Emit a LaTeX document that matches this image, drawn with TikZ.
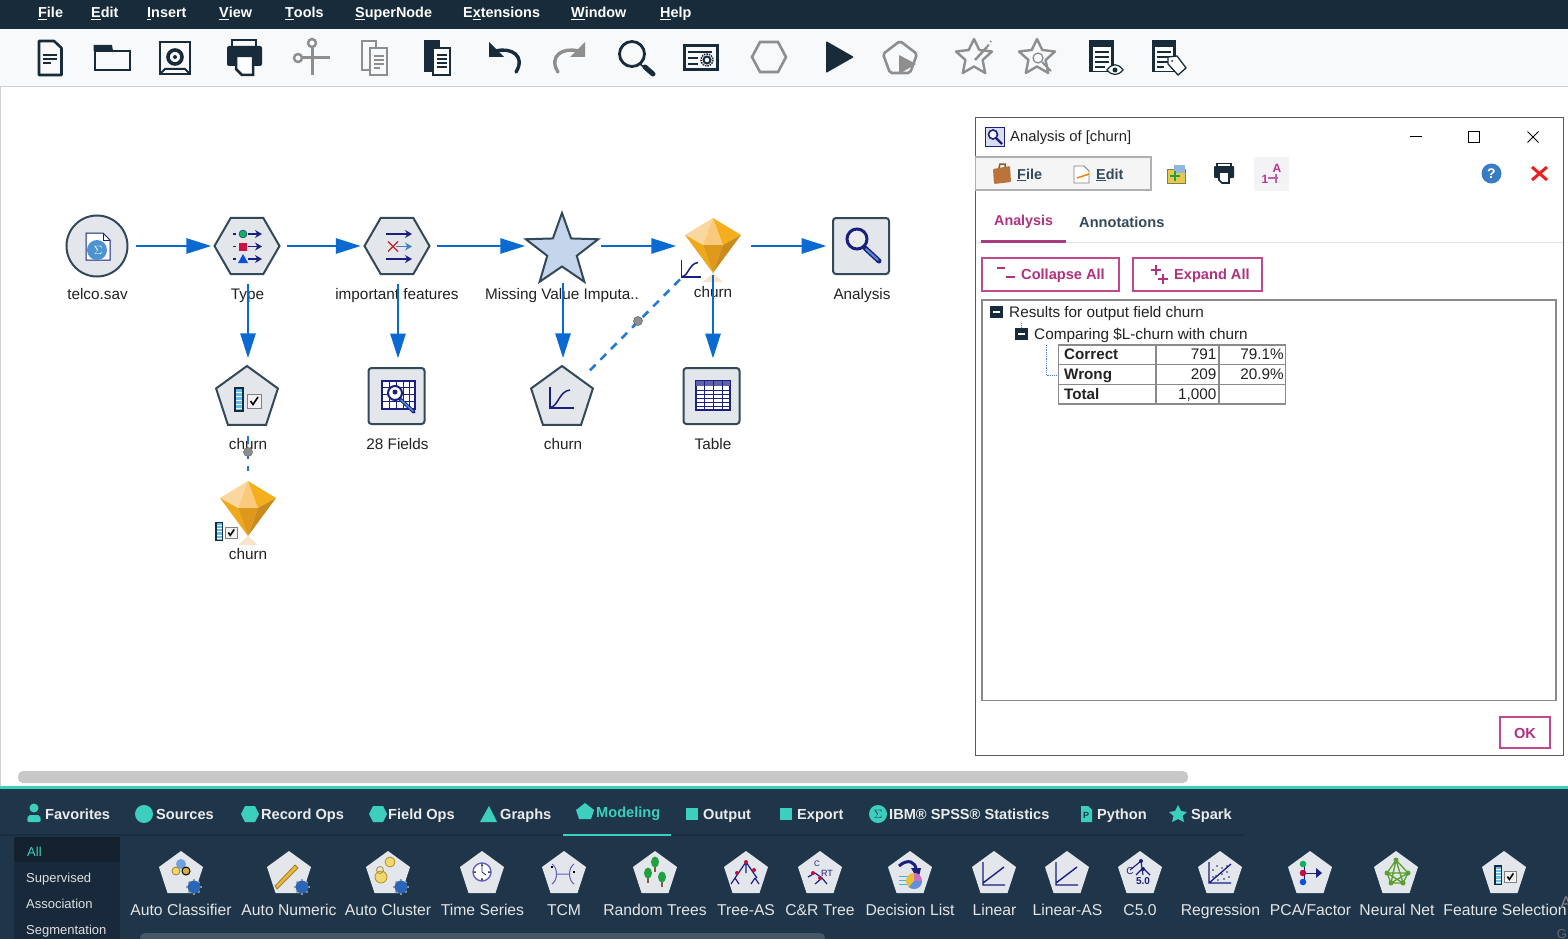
\documentclass[tikz,border=0pt]{standalone}
\usepackage{fontspec}
\setmainfont{Liberation Sans}
\usetikzlibrary{arrows.meta,shapes.geometric}
\definecolor{ink}{HTML}{172B3A}
\definecolor{gry}{HTML}{8E8E8E}
\definecolor{pal}{HTML}{1F364A}
\definecolor{teal}{HTML}{3CCFBD}
\definecolor{flowb}{HTML}{0A6AD2}
\definecolor{nodef}{HTML}{E3E6EA}
\definecolor{nodeb}{HTML}{33495A}
\definecolor{navy}{HTML}{1A1F80}
\definecolor{mag}{HTML}{B0317F}
\definecolor{txtc}{HTML}{222222}
\newcommand\hc[1]{\definecolor{c#1}{HTML}{#1}}
\hc{F8F9FB}\hc{CFCFCF}\hc{D0D0D0}\hc{C5D5EC}\hc{FAD79E}\hc{F9CA7C}\hc{F5AE1E}\hc{EFA81A}\hc{DE981C}\hc{CB8A1C}
\hc{2A66B8}\hc{4C93CF}\hc{10B060}\hc{D01040}\hc{0A50D8}\hc{4080C0}\hc{C02030}\hc{5A8FD0}\hc{C8C8C8}\hc{5A5A5A}
\hc{D8DEEE}\hc{B0B0B0}\hc{F5F5F5}\hc{B8743A}\hc{8A5A2A}\hc{33495A}\hc{808040}\hc{E8C850}\hc{90B8E0}\hc{20A040}
\hc{F3F3F6}\hc{C03090}\hc{C060B0}\hc{3A7CC4}\hc{E82020}\hc{E2E2E2}\hc{A83A80}\hc{C0498F}\hc{4C80C8}\hc{8A8A8A}
\hc{1A2E3F}\hc{17293A}\hc{13222E}\hc{465868}\hc{6FA0E0}\hc{A08020}\hc{F0D870}\hc{D8B040}\hc{E8B840}\hc{B09020}
\hc{6060C0}\hc{C01040}\hc{40B0F0}\hc{E8C030}\hc{D070C0}\hc{6090E0}\hc{1050D8}\hc{5AA030}\hc{F8E4CA}\hc{5FC0F0}
\tikzset{
 txt/.style={inner sep=0,text height=11pt,text depth=1pt},
 lbl/.style={txt,text=txtc,font=\fontsize{15.3}{16}\selectfont},
 menu/.style={txt,anchor=west,text=white,font=\fontsize{14.4}{16}\selectfont\bfseries},
 tabt/.style={txt,anchor=west,text=white!92!black,font=\fontsize{14.6}{16}\selectfont\bfseries},
 pall/.style={txt,text=white!90!black,font=\fontsize{15.7}{16}\selectfont},
 side/.style={txt,anchor=west,text=white!88!black,font=\fontsize{13}{16}\selectfont},
 dlg/.style={txt,anchor=west,text=txtc,font=\fontsize{15.3}{16}\selectfont},
 cellb/.style={txt,anchor=west,text=txtc,font=\fontsize{15.2}{16}\selectfont\bfseries},
 cellr/.style={txt,anchor=east,text=txtc,font=\fontsize{15.3}{16}\selectfont},
 btn/.style={txt,anchor=west,text=mag,font=\fontsize{14.6}{16}\selectfont\bfseries},
 hexn/.style={regular polygon,regular polygon sides=6,minimum size=65pt,inner sep=0,draw=nodeb,fill=nodef,line width=2pt},
 pentn/.style={regular polygon,regular polygon sides=5,minimum size=65pt,inner sep=0,draw=nodeb,fill=nodef,line width=2pt},
 sqn/.style={rectangle,rounded corners=3pt,minimum size=56pt,inner sep=0,draw=nodeb,fill=nodef,line width=2pt},
 hub/.style={rectangle,minimum size=56pt,inner sep=0},
 flow/.style={draw=flowb,line width=2.8pt,-{Triangle[length=25pt,width=15pt]}},
 link/.style={draw=flowb!90!white,line width=2.6pt,dash pattern=on 8pt off 7pt},
 dotn/.style={circle,minimum size=9pt,inner sep=0,fill=gry,draw=gry!70!black,line width=.5pt},
 tbd/.style={draw=ink,line width=2.6pt},
 tbg/.style={draw=gry,line width=2.6pt},
 barcheck/.pic={
  \fill[ink] (-13.5,-12) rectangle (-3.5,13);
  \fill[c5FC0F0] (-11.5,-10) rectangle (-5.5,11);
  \foreach \yy in {-7,-3,1,5,9}{\draw[white,line width=.7pt] (-11.5,\yy) -- (-5.5,\yy);}
  \draw[gray,fill=white!95!black,line width=.8pt] (-0.5,-5) rectangle (14,9);
  \draw[black,line width=1.6pt] (3,2) -- (5.5,5.5) -- (10.5,-2);
 },
 curveic/.pic={
  \draw[navy,line width=1.1pt] (-12,-11) -- (-12,10) -- (12,10);
  \draw[navy,line width=1.5pt] (-12,9.5) .. controls (-4,9) and (-3,-7) .. (8,-8);
 },
 gemic/.pic={
  \fill[cF8E4CA] (0,27) -- (-10,36) -- (10,36) -- cycle;
  \fill[cFAD79E] (0,-28) -- (-28,-11) -- (-10,-1) -- cycle;
  \fill[cF9CA7C] (0,-28) -- (-10,-1) -- (10,-1) -- cycle;
  \fill[cF5AE1E] (0,-28) -- (28,-11) -- (10,-1) -- cycle;
  \fill[cEFA81A] (-28,-11) -- (-10,-1) -- (0,27) -- cycle;
  \fill[cDE981C] (-10,-1) -- (10,-1) -- (0,27) -- cycle;
  \fill[cCB8A1C] (28,-11) -- (10,-1) -- (0,27) -- cycle;
 },
 palpent/.pic={
  \fill[nodef] (0,-23) -- (22,-7) -- (13.5,19) -- (-13.5,19) -- (-22,-7) -- cycle;
 },
 gearic/.pic={
  \foreach \aa in {0,45,...,315}{\draw[gray!80!white,line width=2.4pt] (0,0) -- (\aa:9.5);}
  \fill[c2A66B8] (0,0) circle (8);
 },
 starout/.pic={
  \draw[gry,line width=2.4pt,line join=round] (0,-18) -- (5.3,-7) -- (18,-5.5) -- (8.6,3) -- (11.2,16) -- (0,9.5) -- (-11.2,16) -- (-8.6,3) -- (-18,-5.5) -- (-5.3,-7) -- cycle;
 },
}
\begin{document}
\begin{tikzpicture}[x=1pt,y=-1pt]
\useasboundingbox (0,0) rectangle (1568,939);
\clip (0,0) rectangle (1568,939);
\fill[white] (0,0) rectangle (1568,939);
% menu bar
\fill[ink] (0,0) rectangle (1568,29);
\fill[cF8F9FB] (0,29) rectangle (1568,86);
\draw[cCFCFCF,line width=1pt] (0,86.5) -- (1568,86.5);
\node[menu] (m1) at (38,13) {\underline{F}ile};
\node[menu] (m2) at (91,13) {\underline{E}dit};
\node[menu] (m3) at (147,13) {\underline{I}nsert};
\node[menu] (m4) at (219,13) {\underline{V}iew};
\node[menu] (m5) at (285,13) {\underline{T}ools};
\node[menu] (m6) at (355,13) {\underline{S}uperNode};
\node[menu] (m7) at (463,13) {E\underline{x}tensions};
\node[menu] (m8) at (571,13) {\underline{W}indow};
\node[menu] (m9) at (660,13) {\underline{H}elp};
% toolbar icons
\draw[tbd,line join=round] (39,41) -- (54,41) -- (61.5,48) -- (61.5,75) -- (39,75) -- cycle;
\draw[ink,line width=1.2pt] (43,55) -- (57,55) (43,59) -- (57,59) (43,63) -- (51,63);
\draw[tbd] (95,51) rectangle (130,70);
\fill[ink] (93.7,45) -- (112,45) -- (113,51) -- (93.7,51) -- cycle;
\draw[tbd] (160,42) rectangle (190,74);
\draw[ink,line width=3.6pt] (175,57) circle (7);
\fill[ink] (175,57) circle (2);
\draw[ink,line width=2pt] (160,74) -- (165,69) -- (185,69) -- (190,74);
\draw[tbd] (232,40) rectangle (256,47);
\fill[ink,rounded corners=2pt] (227,46) rectangle (262,66);
\draw[ink,fill=white,line width=2.5pt] (236,56) -- (253,56) -- (253,75) -- (242,75) -- (236,69) -- cycle;
\draw[gry,line width=3pt] (312,47) -- (312,75) (302,58) -- (330,58);
\draw[gry,line width=2.4pt] (312,43) circle (4) (298,58) circle (4);
\draw[tbg,line width=2pt] (362,41) rectangle (376,70);
\draw[gry,fill=cF8F9FB,line width=2pt] (370,48) rectangle (387,75);
\draw[gry,line width=1.2pt] (374,56) -- (384,56) (374,60) -- (384,60) (374,64) -- (384,64) (374,68) -- (380,68);
\fill[ink] (424,40) -- (440,40) -- (440,72) -- (424,72) -- cycle;
\draw[ink,fill=white,line width=2.2pt] (433,48) rectangle (450,75);
\draw[ink,line width=1.3pt] (437,55) -- (447,55) (437,59) -- (447,59) (437,63) -- (447,63) (437,67) -- (447,67);
\draw[ink,line width=3.4pt,line cap=round] (516,72) .. controls (526,56) and (511,47) .. (496,51);
\fill[ink] (489,42) -- (489,57) -- (504,57) -- cycle;
\draw[gry,line width=3.4pt,line cap=round] (558,72) .. controls (548,56) and (563,47) .. (578,51);
\fill[gry] (585,42) -- (585,57) -- (570,57) -- cycle;
\draw[ink,line width=2.8pt] (632,54) circle (12.5);
\draw[ink,line width=1.6pt] (640,64) -- (645,68);
\draw[ink,line width=5pt,line cap=round] (645,67) -- (653,74);
\draw[tbd,line width=3pt] (684,46) rectangle (717,70);
\draw[ink,line width=1.5pt] (688,52) -- (712,52) (688,58) -- (698,58) (688,64) -- (698,64);
\draw[ink,line width=2pt] (707,60) circle (3.5);
\draw[ink,line width=1.5pt,densely dotted] (707,60) circle (6);
\draw[tbg] (752,57) -- (760,42) -- (778,42) -- (786,57) -- (778,72) -- (760,72) -- cycle;
\fill[ink,rounded corners=1pt] (826,41) -- (854,57) -- (826,73) -- cycle;
\draw[tbg,rounded corners=2pt] (900,41) -- (917,54) -- (910,73) -- (890,73) -- (883,54) -- cycle;
\fill[gry] (899,55) -- (916,64) -- (899,74) -- cycle;
\pic at (974,57) {starout};
\draw[gry,line width=2.5pt] (975,60) -- (987,47);
\draw[gry,line width=2pt,dashed] (987,47) -- (991,41);
\pic at (1037,57) {starout};
\draw[gry,line width=1.3pt] (1038,58) circle (5);
\draw[gry,line width=2pt] (1042,62) -- (1051,71);
\fill[ink] (1089,40) rectangle (1114,72);
\fill[white] (1093,47) rectangle (1111,71);
\draw[ink,line width=1.2pt] (1095,52) -- (1109,52) (1095,57) -- (1109,57) (1095,62) -- (1109,62) (1095,67) -- (1105,67);
\draw[ink,fill=white,line width=1.2pt] (1107,70) .. controls (1112,63) and (1118,63) .. (1123,70) .. controls (1118,76) and (1112,76) .. (1107,70) -- cycle;
\fill[ink] (1115,70) circle (2.5);
\fill[ink] (1152,40) rectangle (1176,72);
\fill[white] (1155,47) rectangle (1173,71);
\draw[ink,line width=1.2pt] (1157,52) -- (1171,52) (1157,57) -- (1171,57) (1157,62) -- (1168,62) (1157,67) -- (1164,67);
\draw[ink,fill=white,line width=1.3pt] (1168,57) -- (1177,56) -- (1186,68) -- (1178,75) -- (1168,64) -- cycle;
\fill[ink] (1172,61) circle (1);
% canvas nodes
\draw[cD0D0D0,line width=1pt] (.5,87) -- (.5,786);
\node[circle,minimum size=61pt,inner sep=0,draw=nodeb,fill=nodef,line width=2pt] (telco) at (97,246) {};
\node[hexn] (type) at (247,246) {};
\node[hexn] (imp) at (397,246) {};
\node[star,star points=5,star point ratio=2.45,minimum size=76pt,inner sep=0,draw=nodeb,fill=cC5D5EC,line width=2pt] (starshape) at (562,251) {};
\node[hub] (mvi) at (562,246) {};
\node[hub] (gem) at (713,246) {};
\pic at (713,246) {gemic};
\node[sqn] (analysis) at (861,246) {};
\node[pentn] (sel) at (247,398.5) {};
\node[sqn] (fields) at (396.5,396) {};
\node[pentn] (logit) at (562,398.5) {};
\node[sqn] (tablen) at (711.5,396) {};
\node[hub] (gemb) at (248,509) {};
\pic at (248,509) {gemic};
% labels
\node[lbl] (l1) at (97.5,294) {telco.sav};
\node[lbl] (l2) at (247.5,294) {Type};
\node[lbl] (l3) at (397,294) {important features};
\node[lbl] (l4) at (562,294) {Missing Value Imputa..};
\node[lbl] (l5) at (713,292) {churn};
\node[lbl] (l6) at (862,294) {Analysis};
\node[lbl] (l7) at (248,444) {churn};
\node[lbl] (l8) at (397.5,444) {28 Fields};
\node[lbl] (l9) at (563,444) {churn};
\node[lbl] (l10) at (713,444) {Table};
\node[lbl] (l11) at (248,554) {churn};
% node icons
\fill[white,draw=navy,line width=1pt] (86,233) -- (103,233) -- (110,240) -- (110,260) -- (86,260) -- cycle;
\draw[navy,line width=1pt] (103,233) -- (103,240) -- (110,240);
\fill[c4C93CF] (97,250) circle (10);
\node[txt,text=white,font=\fontsize{12}{12}\selectfont\bfseries] (sig) at (98,249) {$\Sigma$};
% type icon
\foreach \yy in {234,246.5,259}{
 \draw[navy,line width=1.2pt] (233,\yy) -- (236,\yy);
 \draw[navy,line width=1.2pt,-{Stealth[length=7pt,width=8pt]}] (248,\yy) -- (262,\yy);}
\fill[c10B060,draw=navy,line width=.4pt] (243,234) circle (4);
\fill[cD01040] (239,242.5) rectangle (247,250.5);
\fill[c0A50D8] (243,254) -- (248,263) -- (238,263) -- cycle;
% imp icon
\draw[navy,line width=1.3pt,-{Stealth[length=7pt,width=8pt]}] (386,234) -- (412,234);
\draw[navy,line width=1.3pt,-{Stealth[length=7pt,width=8pt]}] (386,259) -- (412,259);
\draw[c4080C0,line width=1.3pt,-{Stealth[length=7pt,width=8pt]}] (396,246.5) -- (412,246.5);
\draw[cC02030,line width=1.4pt] (388,241.5) -- (398,251.5) (398,241.5) -- (388,251.5);
% analysis icon
\draw[navy,line width=3pt,fill=white!85!gray] (857,239) circle (10);
\draw[navy,line width=5pt,line cap=round] (865,248) -- (879,261);
\draw[c5A8FD0,line width=2pt,line cap=round] (866,249) -- (878,260);
% sel icon
\pic at (247.5,399) {barcheck};
% fields icon
\draw[navy,fill=white,line width=1.5pt] (382,381) rectangle (415,409);
\foreach \xx in {389,396,403,409}{\draw[navy,line width=1pt] (\xx,381) -- (\xx,409);}
\foreach \yy in {387,394,401}{\draw[navy,line width=1pt] (382,\yy) -- (415,\yy);}
\draw[navy,fill=white,line width=2pt] (395,393) circle (7);
\fill[navy] (395,392) circle (2.5);
\draw[navy,line width=3.5pt,line cap=round] (400,399) -- (414,412);
\draw[c4C93CF,line width=1.5pt,line cap=round] (401,400) -- (413,411);
% logit icon
\pic at (562,398) {curveic};
% table icon
\draw[navy,fill=white,line width=1.4pt] (696,381) rectangle (730,410);
\fill[navy!70!white] (696,381) rectangle (730,386);
\foreach \xx in {704,713,722}{\draw[navy,line width=1pt] (\xx,381) -- (\xx,410);}
\foreach \yy in {390,394,398,402,406}{\draw[navy,line width=.7pt] (696,\yy) -- (730,\yy);}
% connectors
\draw[flow,shorten <=7.5pt,shorten >=2pt] (telco) -- (type);
\draw[flow,shorten <=6.5pt,shorten >=2.5pt] (type) -- (imp);
\draw[flow,shorten <=6pt,shorten >=8.5pt] (imp) -- (mvi);
\draw[flow,shorten <=11pt,shorten >=8.5pt] (mvi) -- (gem);
\draw[flow,shorten <=10pt,shorten >=5.5pt] (gem) -- (analysis);
\draw[flow,shorten <=9pt,shorten >=6.5pt] ([xshift=1pt]type.south) -- ([xshift=1pt]sel.north);
\draw[flow,shorten <=9pt,shorten >=8.5pt] ([xshift=1pt]imp.south) -- ([xshift=1.5pt]fields.north);
\draw[flow,shorten <=9pt,shorten >=6.5pt] ([xshift=1pt]mvi.south) -- ([xshift=1pt]logit.north);
\draw[flow,shorten <=1pt,shorten >=8.5pt] (gem.south) -- ([xshift=1.5pt]tablen.north);
\draw[link,shorten <=12pt,shorten >=7pt] (logit) -- (gem);
\draw[link,shorten <=10pt,shorten >=10pt] ([xshift=1pt]sel.south) -- (gemb.north);
\node[dotn] (d1) at (638,321) {};
\node[dotn] (d2) at (248,452) {};
% small icons over
\pic[scale=.8] at (691.5,269) {curveic};
\pic[scale=.78] at (226,531) {barcheck};
% scrollbar
\fill[cC8C8C8,rounded corners=5pt] (18,771) rectangle (1188,783);
% dialog
\draw[c5A5A5A,fill=white,line width=1pt] (975,118) rectangle (1563.5,755);
\draw[navy,fill=cD8DEEE,line width=1pt] (985.5,127.5) rectangle (1004,146);
\draw[navy,line width=1.6pt,fill=white] (993,134.5) circle (4.5);
\draw[navy,line width=2.4pt] (996,138) -- (1002,144);
\node[dlg,font=\fontsize{14.8}{16}\selectfont] (dt) at (1010,137) {Analysis of [churn]};
\draw[black,line width=1pt] (1410,136.5) -- (1422,136.5);
\draw[black,line width=1pt] (1468.5,131.5) rectangle (1479.5,142.5);
\draw[black,line width=.9pt] (1527.5,131.5) -- (1538.5,142.5) (1538.5,131.5) -- (1527.5,142.5);
\draw[cB0B0B0,fill=cF5F5F5,line width=1.2pt] (975.5,157) rectangle (1151,190);
\fill[cB8743A,rounded corners=1pt] (993,169) -- (1010,166) -- (1011,182) -- (994,184) -- cycle;
\draw[c8A5A2A,line width=1.5pt] (999,168) -- (1000,164) -- (1005,164) -- (1005,167);
\node[dlg,font=\fontsize{14.4}{16}\selectfont\bfseries,text=c33495A] (dm1) at (1017,174) {\underline{F}ile};
\draw[gray,fill=white,line width=.8pt] (1074,166) -- (1084,166) -- (1089,171) -- (1089,183) -- (1074,183) -- cycle;
\draw[orange,line width=1.5pt] (1077,178) -- (1089,174);
\node[dlg,font=\fontsize{14.4}{16}\selectfont\bfseries,text=c33495A] (dm2) at (1096,174) {\underline{E}dit};
\draw[c808040,fill=cE8C850,line width=.8pt] (1167,169) rectangle (1185,183);
\fill[c90B8E0] (1174,165) rectangle (1185,173);
\draw[c20A040,line width=2.6pt] (1175,171) -- (1175,181) (1170,176) -- (1180,176);
\fill[ink,rounded corners=1pt] (1214,166) rectangle (1234,178);
\draw[ink,line width=1.6pt] (1217,163.5) rectangle (1231,167);
\draw[ink,fill=white,line width=1.6pt] (1219,172) -- (1229,172) -- (1229,183) -- (1222,183) -- (1219,180) -- cycle;
\fill[cF3F3F6] (1254,157) rectangle (1289,191);
\node[txt,text=cC03090,font=\fontsize{12}{12}\selectfont\bfseries] (azA) at (1277,167) {A};
\node[txt,text=cC03090,font=\fontsize{12}{12}\selectfont\bfseries] (az1) at (1265,178) {1};
\draw[cC060B0,line width=2.4pt] (1268,178) -- (1278,178) (1276,174) -- (1276,183);
\fill[c3A7CC4] (1491.5,173.5) circle (10);
\node[txt,text=white,font=\fontsize{14}{14}\selectfont\bfseries] (hq) at (1491.5,173) {?};
\draw[cE82020,line width=3pt] (1532,167) -- (1547,180) (1547,167) -- (1532,180);
\node[dlg,text=mag,font=\fontsize{14.3}{16}\selectfont\bfseries] (t1) at (994,220) {Analysis};
\node[dlg,text=c33495A,font=\fontsize{14.6}{16}\selectfont\bfseries] (t2) at (1079,222) {Annotations};
\draw[cE2E2E2,line width=1.5pt] (975.5,242.5) -- (1563,242.5);
\fill[cA83A80] (981,240) rectangle (1066,243);
\draw[cC0498F,line width=1.5pt] (982,258) rectangle (1119,291);
\draw[mag,line width=2pt] (997,268) -- (1005,268) (1006,277) -- (1015,277);
\node[btn] (b1) at (1021,274) {Collapse All};
\draw[cC0498F,line width=1.5pt] (1133,258) rectangle (1262,291);
\draw[mag,line width=2pt] (1151,270) -- (1161,270) (1156,265) -- (1156,275) (1158,279) -- (1168,279) (1163,274) -- (1163,284);
\node[btn] (b2) at (1174,274) {Expand All};
\draw[c8A8A8A,line width=1.5pt] (982,300) rectangle (1556,700.5);
\fill[ink] (990,305.5) rectangle (1003,317.5);
\fill[white] (993,310.5) rectangle (1000,312.5);
\node[dlg] (r1) at (1009,312) {Results for output field churn};
\draw[c4C80C8,line width=.8pt,densely dotted] (1021,323) -- (1021,328);
\fill[ink] (1015,327.5) rectangle (1028,339.5);
\fill[white] (1018,332.5) rectangle (1025,334.5);
\node[dlg] (r2) at (1034,334) {Comparing \$L-churn with churn};
\draw[c4C80C8,line width=.8pt,densely dotted] (1046,345) -- (1046,375) -- (1057,375);
\draw[c8A8A8A,line width=1.5pt] (1058.5,345) rectangle (1285.5,404) (1156,345) -- (1156,404) (1219,345) -- (1219,404) (1058.5,364.5) -- (1285.5,364.5) (1058.5,384.5) -- (1285.5,384.5);
\node[cellb] (c1) at (1064,354.5) {Correct};
\node[cellr] (c2) at (1216.5,354.5) {791};
\node[cellr] (c3) at (1284,354.5) {79.1\%};
\node[cellb] (c4) at (1064,374.5) {Wrong};
\node[cellr] (c5) at (1216.5,374.5) {209};
\node[cellr] (c6) at (1284,374.5) {20.9\%};
\node[cellb] (c7) at (1064,394.5) {Total};
\node[cellr] (c8) at (1216.5,394.5) {1,000};
\draw[cC0498F,line width=1.5pt] (1500,717) rectangle (1550,748);
\node[btn,anchor=center] (ok) at (1525,733) {OK};
% palette
\fill[pal] (0,786) rectangle (1568,939);
\fill[teal] (0,786) rectangle (1568,788.5);
\draw[c1A2E3F,line width=1.5pt] (0,835) -- (1245,835);
\fill[teal] (563,834) rectangle (671,836);
\fill[teal] (34,808) circle (4.5);
\fill[teal,rounded corners=2pt] (27,822) -- (28,815) -- (40,815) -- (41,822) -- cycle;
\node[tabt] (p1) at (45,814) {Favorites};
\fill[teal] (144,814) circle (9);
\node[tabt] (p2) at (156,814) {Sources};
\fill[teal] (241,814) -- (245,806) -- (255,806) -- (259,814) -- (255,822) -- (245,822) -- cycle;
\node[tabt] (p3) at (261,814) {Record Ops};
\fill[teal] (369,814) -- (373,806) -- (383,806) -- (387,814) -- (383,822) -- (373,822) -- cycle;
\node[tabt] (p4) at (388,814) {Field Ops};
\fill[teal] (489,806) -- (497,822) -- (480,822) -- cycle;
\node[tabt] (p5) at (500,814) {Graphs};
\fill[teal] (585,803) -- (594,810) -- (591,819) -- (579,819) -- (576,810) -- cycle;
\node[tabt,text=teal] (p6) at (596,812) {Modeling};
\fill[teal] (686,808) rectangle (698,820);
\node[tabt] (p7) at (703,814) {Output};
\fill[teal] (780,808) rectangle (792,820);
\node[tabt] (p8) at (797,814) {Export};
\fill[teal] (878,814) circle (9);
\node[txt,text=pal,font=\fontsize{12}{12}\selectfont\bfseries] (p9s) at (878,813) {$\Sigma$};
\node[tabt] (p9) at (889,814) {IBM® SPSS® Statistics};
\fill[teal] (1081,806) -- (1088,806) -- (1092,810) -- (1092,822) -- (1081,822) -- cycle;
\node[txt,text=pal,font=\fontsize{9}{9}\selectfont\bfseries] (p10s) at (1086,813) {P};
\node[tabt] (p10) at (1097,814) {Python};
\fill[teal] (1178,805) -- (1181,811) -- (1187,812) -- (1182.5,816) -- (1184,822) -- (1178,819) -- (1172,822) -- (1173.5,816) -- (1169,812) -- (1175,811) -- cycle;
\node[tabt] (p11) at (1191,814) {Spark};
% side list
\fill[c17293A] (14,837) rectangle (120,939);
\fill[c13222E] (14,837) rectangle (120,862);
\node[side,text=teal] (s1) at (27,851) {All};
\node[side] (s2) at (26,877) {Supervised};
\node[side] (s3) at (26,903) {Association};
\node[side] (s4) at (26,929) {Segmentation};
\fill[c465868,rounded corners=5pt] (140,933) rectangle (825,945);
% palette pentagons
\foreach \xx in {181,289,388,482,564,655,746,820,910,994,1067,1140,1220,1310,1396,1504}{\pic at (\xx,874) {palpent};}
\node[pall] (a1) at (181,910) {Auto Classifier};
\node[pall] (a2) at (289,910) {Auto Numeric};
\node[pall] (a3) at (388,910) {Auto Cluster};
\node[pall] (a4) at (482.5,910) {Time Series};
\node[pall] (a5) at (564,910) {TCM};
\node[pall] (a6) at (655,910) {Random Trees};
\node[pall] (a7) at (746,910) {Tree-AS};
\node[pall] (a8) at (820,910) {C\&R Tree};
\node[pall] (a9) at (910,910) {Decision List};
\node[pall] (a10) at (994.5,910) {Linear};
\node[pall] (a11) at (1067.5,910) {Linear-AS};
\node[pall] (a12) at (1140,910) {C5.0};
\node[pall] (a13) at (1220.5,910) {Regression};
\node[pall] (a14) at (1310.5,910) {PCA/Factor};
\node[pall] (a15) at (1397,910) {Neural Net};
\node[pall] (a16) at (1505,910) {Feature Selection};
\node[txt,text=gray,font=\fontsize{17}{17}\selectfont] (w1) at (1566,903) {A};
\node[txt,text=gray!70!pal,font=\fontsize{13}{13}\selectfont] (w2) at (1562,933) {G};
% palette icons
\fill[c6FA0E0] (181,864) circle (5);
\draw[cA08020,fill=cF0D870,line width=.8pt] (176,871) circle (4);
\draw[black,fill=cD8B040,line width=1pt] (186,871) circle (4);
\pic[scale=.8] at (194,887) {gearic};
\draw[cA08020,fill=cE8B840,line width=.8pt] (277,889) -- (275,886) -- (295,865) -- (298,868) -- cycle;
\pic[scale=.8] at (302,887) {gearic};
\draw[cB09020,fill=cF0D870,line width=.8pt] (390,862) circle (5);
\draw[cB09020,fill=cF0D870,line width=.8pt] (381,877) circle (6);
\draw[cB09020,line width=.8pt] (380,870) circle (3.5);
\pic[scale=.8] at (401,887) {gearic};
\draw[c6060C0,fill=white,line width=1.4pt] (482,872) circle (9);
\draw[navy,line width=.8pt] (482,866) -- (482,872) -- (486,875);
\foreach \aa in {0,90,180,270}{\fill[black] (482,872) ++(\aa:7) circle (1);}
\draw[c6060C0,line width=1pt] (552,864) .. controls (558,868) and (558,880) .. (552,884) (574,864) .. controls (568,868) and (568,880) .. (574,884) (556,874) -- (570,874);
\fill[black] (551,866) rectangle (553,868);
\fill[black] (573,871) rectangle (575,873);
\foreach \xx/\yy in {655/862,648/873,662/877}{
 \draw[c8A5A2A,line width=1.8pt] (\xx,\yy) -- (\xx,\yy+10);
 \fill[c20A040] (\xx,\yy) ellipse (4 and 5.5);}
\draw[navy,line width=1.2pt] (746,862) -- (735,878) (746,862) -- (757,878) (735,878) -- (731,884) (735,878) -- (739,884) (755,878) -- (751,884) (755,878) -- (759,884) (746,862) -- (746,873);
\fill[cC01040] (746,862) circle (2) (737,873) circle (2) (754,870) circle (2);
\draw[navy,line width=1.2pt] (815,873) -- (822,878) (822,878) -- (815,884) (822,878) -- (827,884) (808,877) -- (815,873);
\fill[cC01040] (813,873) circle (2) (820,878) circle (2);
\node[txt,text=navy,font=\fontsize{8}{8}\selectfont] (crC) at (817,861) {C};
\node[txt,text=navy,font=\fontsize{9}{9}\selectfont] (crR) at (827,871) {RT};
\draw[navy,line width=3pt] (899,866) .. controls (908,858) and (916,862) .. (916,870);
\fill[navy] (911,868) -- (921,868) -- (918,880) -- cycle;
\foreach \yy in {876,880,884}{\draw[c40B0F0,line width=1pt] (899,\yy) -- (908,\yy);}
\fill[cE8C030] (914,881) circle (8);
\fill[cD070C0] (914,881) -- (914,873) arc (-90:0:8) -- cycle;
\fill[c6090E0] (914,881) -- (922,881) arc (0:130:8) -- cycle;
\draw[navy,line width=1.4pt] (983,862) -- (983,885) -- (1005,885) (983,883) -- (1004,867);
\draw[navy,line width=1.4pt] (1056,862) -- (1056,885) -- (1078,885) (1056,883) -- (1077,867);
\draw[navy,line width=1.1pt] (1141,861) -- (1130,870) (1141,861) -- (1143,875) (1143,868) -- (1136,875) (1143,868) -- (1150,875);
\fill[navy] (1141,861) circle (2) (1143,869) circle (2);
\node[txt,text=navy,font=\fontsize{10}{10}\selectfont\bfseries] (c50) at (1143,879) {5.0};
\node[txt,text=navy,font=\fontsize{10}{10}\selectfont] (c5c) at (1130,869) {C};
\draw[navy,line width=1.3pt] (1209,862) -- (1209,883) -- (1231,883) (1209,883) -- (1231,864);
\foreach \xx/\yy in {1213/870,1217/866,1222/868,1227/866,1216/876,1222/874,1227/872,1218/880,1224/879,1229/877,1213/877}{\fill[navy] (\xx,\yy) circle (.8);}
\draw[navy,line width=1pt] (1304,864) -- (1304,882) (1304,873) -- (1318,873);
\fill[navy] (1316,868) -- (1322,873) -- (1316,878) -- cycle;
\fill[c10B060] (1303,864) circle (3.3);
\fill[cC01040] (1303,873) circle (3.3);
\fill[c1050D8] (1303,882) circle (3.3);
\draw[c5AA030,line width=1.3pt] (1396,860) -- (1387,873) -- (1391,883) -- (1403,883) -- (1408,873) -- cycle (1396,860) -- (1391,883) (1396,860) -- (1403,883) (1387,873) -- (1408,873) (1387,873) -- (1403,883) (1408,873) -- (1391,883);
\foreach \xx/\yy in {1396/860,1387/873,1391/883,1403/883,1408/873}{\fill[c5AA030] (\xx,\yy) circle (2.5);}
\pic[scale=.8] at (1505,875) {barcheck};
\end{tikzpicture}
\end{document}
